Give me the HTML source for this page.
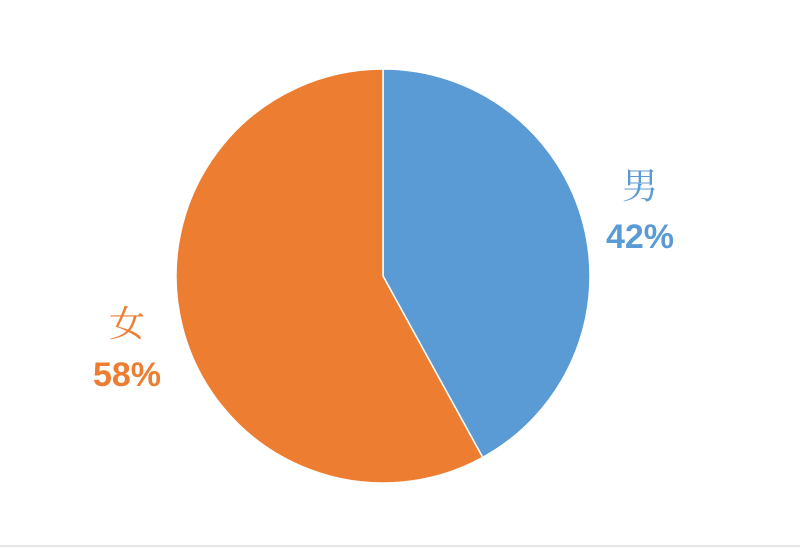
<!DOCTYPE html>
<html><head><meta charset="utf-8"><style>
html,body{margin:0;padding:0;background:#fff;}
svg{display:block;}
</style></head><body>
<svg width="800" height="548" id="chart">
<rect x="0" y="0" width="800" height="548" fill="#fff"/>
<line x1="0" y1="546" x2="800" y2="546" stroke="#e6e6e6" stroke-width="2"/>
<g id="slices"></g>
<g id="labels"></g>
</svg>
<script>
const categories = ["男", "女"];
const values = [42, 58];
const colors = ["#5B9BD5", "#ED7D31"];
const labelPos = [[640, 198, 248], [127, 336, 386]];

const cx = 383, cy = 276, r = 207;
const NS = "http://www.w3.org/2000/svg";
const total = values.reduce((a, b) => a + b, 0);
const slices = document.getElementById("slices");
const labels = document.getElementById("labels");
let start = 0;
values.forEach((v, i) => {
  const a0 = start / total * 2 * Math.PI;
  const a1 = (start + v) / total * 2 * Math.PI;
  start += v;
  const x0 = cx + r * Math.sin(a0), y0 = cy - r * Math.cos(a0);
  const x1 = cx + r * Math.sin(a1), y1 = cy - r * Math.cos(a1);
  const large = (a1 - a0) > Math.PI ? 1 : 0;
  const p = document.createElementNS(NS, "path");
  p.setAttribute("d", `M${cx},${cy} L${x0},${y0} A${r},${r} 0 ${large} 1 ${x1},${y1} Z`);
  p.setAttribute("fill", colors[i]);
  p.setAttribute("stroke", "#fff");
  p.setAttribute("stroke-width", "1.5");
  
  
  slices.appendChild(p);

  const t1 = document.createElementNS(NS, "text");
  t1.setAttribute("x", labelPos[i][0]);
  t1.setAttribute("y", labelPos[i][1]);
  t1.setAttribute("text-anchor", "middle");
  t1.setAttribute("fill", colors[i]);
  t1.setAttribute("font-size", "36");
  t1.setAttribute("font-family", '"Liberation Serif","Noto Serif CJK SC",serif');
  t1.textContent = categories[i];
  
  
  labels.appendChild(t1);

  const t2 = document.createElementNS(NS, "text");
  t2.setAttribute("x", labelPos[i][0]);
  t2.setAttribute("y", labelPos[i][2]);
  t2.setAttribute("text-anchor", "middle");
  t2.setAttribute("fill", colors[i]);
  t2.setAttribute("font-size", "34");
  t2.setAttribute("font-weight", "bold");
  t2.setAttribute("font-family", '"Liberation Sans",sans-serif');
  t2.textContent = Math.round(v / total * 100) + "%";
  
  
  labels.appendChild(t2);
});
</script>
</body></html>
